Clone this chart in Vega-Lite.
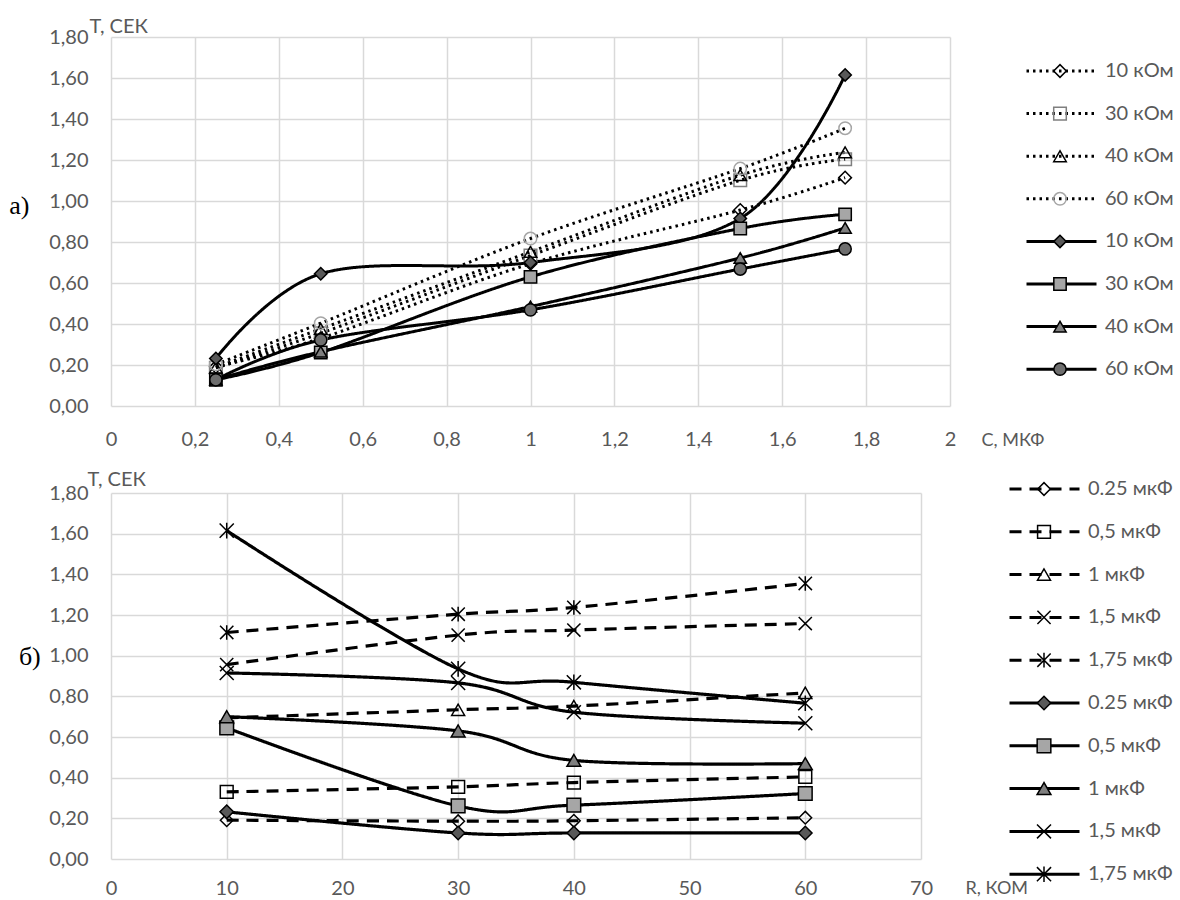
{
  "$schema": "https://vega.github.io/schema/vega-lite/v6.json",
  "padding": {"left": 9, "top": 16, "right": 0, "bottom": 0},
  "background": "white",
  "bounds": "flush",
  "spacing": 87,
  "config": {
    "view": {"stroke": null},
    "axis": {
      "grid": true, "gridColor": "#d9d9d9", "gridWidth": 1.5,
      "domain": false, "ticks": false,
      "labelFont": "Lato", "labelFontSize": 20, "labelColor": "#595959",
      "labelOverlap": false, "labelFlush": false,
      "titleFont": "Lato", "titleFontSize": 20, "titleColor": "#595959", "titleFontWeight": "normal"
    },
    "legend": {
      "orient": "none", "title": null, "padding": 0, "clipHeight": 20,
      "labelFont": "Lato", "labelFontSize": 20, "labelColor": "#595959"
    }
  },
  "data": {"values": [
    {"kind": "d", "C": 0.25, "R": 10, "T": 0.191, "sa": "d|10 кОм", "sb": "d|0.25 мкФ"},
    {"kind": "d", "C": 0.25, "R": 30, "T": 0.186, "sa": "d|30 кОм", "sb": "d|0.25 мкФ"},
    {"kind": "d", "C": 0.25, "R": 40, "T": 0.188, "sa": "d|40 кОм", "sb": "d|0.25 мкФ"},
    {"kind": "d", "C": 0.25, "R": 60, "T": 0.203, "sa": "d|60 кОм", "sb": "d|0.25 мкФ"},
    {"kind": "d", "C": 0.5, "R": 10, "T": 0.33, "sa": "d|10 кОм", "sb": "d|0,5 мкФ"},
    {"kind": "d", "C": 0.5, "R": 30, "T": 0.355, "sa": "d|30 кОм", "sb": "d|0,5 мкФ"},
    {"kind": "d", "C": 0.5, "R": 40, "T": 0.376, "sa": "d|40 кОм", "sb": "d|0,5 мкФ"},
    {"kind": "d", "C": 0.5, "R": 60, "T": 0.404, "sa": "d|60 кОм", "sb": "d|0,5 мкФ"},
    {"kind": "d", "C": 1, "R": 10, "T": 0.694, "sa": "d|10 кОм", "sb": "d|1 мкФ"},
    {"kind": "d", "C": 1, "R": 30, "T": 0.734, "sa": "d|30 кОм", "sb": "d|1 мкФ"},
    {"kind": "d", "C": 1, "R": 40, "T": 0.752, "sa": "d|40 кОм", "sb": "d|1 мкФ"},
    {"kind": "d", "C": 1, "R": 60, "T": 0.817, "sa": "d|60 кОм", "sb": "d|1 мкФ"},
    {"kind": "d", "C": 1.5, "R": 10, "T": 0.956, "sa": "d|10 кОм", "sb": "d|1,5 мкФ"},
    {"kind": "d", "C": 1.5, "R": 30, "T": 1.101, "sa": "d|30 кОм", "sb": "d|1,5 мкФ"},
    {"kind": "d", "C": 1.5, "R": 40, "T": 1.126, "sa": "d|40 кОм", "sb": "d|1,5 мкФ"},
    {"kind": "d", "C": 1.5, "R": 60, "T": 1.158, "sa": "d|60 кОм", "sb": "d|1,5 мкФ"},
    {"kind": "d", "C": 1.75, "R": 10, "T": 1.114, "sa": "d|10 кОм", "sb": "d|1,75 мкФ"},
    {"kind": "d", "C": 1.75, "R": 30, "T": 1.204, "sa": "d|30 кОм", "sb": "d|1,75 мкФ"},
    {"kind": "d", "C": 1.75, "R": 40, "T": 1.237, "sa": "d|40 кОм", "sb": "d|1,75 мкФ"},
    {"kind": "d", "C": 1.75, "R": 60, "T": 1.355, "sa": "d|60 кОм", "sb": "d|1,75 мкФ"},
    {"kind": "s", "C": 0.25, "R": 10, "T": 0.232, "sa": "s|10 кОм", "sb": "s|0.25 мкФ"},
    {"kind": "s", "C": 0.25, "R": 30, "T": 0.128, "sa": "s|30 кОм", "sb": "s|0.25 мкФ"},
    {"kind": "s", "C": 0.25, "R": 40, "T": 0.128, "sa": "s|40 кОм", "sb": "s|0.25 мкФ"},
    {"kind": "s", "C": 0.25, "R": 60, "T": 0.128, "sa": "s|60 кОм", "sb": "s|0.25 мкФ"},
    {"kind": "s", "C": 0.5, "R": 10, "T": 0.645, "sa": "s|10 кОм", "sb": "s|0,5 мкФ"},
    {"kind": "s", "C": 0.5, "R": 30, "T": 0.261, "sa": "s|30 кОм", "sb": "s|0,5 мкФ"},
    {"kind": "s", "C": 0.5, "R": 40, "T": 0.265, "sa": "s|40 кОм", "sb": "s|0,5 мкФ"},
    {"kind": "s", "C": 0.5, "R": 60, "T": 0.322, "sa": "s|60 кОм", "sb": "s|0,5 мкФ"},
    {"kind": "s", "C": 1, "R": 10, "T": 0.7, "sa": "s|10 кОм", "sb": "s|1 мкФ"},
    {"kind": "s", "C": 1, "R": 30, "T": 0.63, "sa": "s|30 кОм", "sb": "s|1 мкФ"},
    {"kind": "s", "C": 1, "R": 40, "T": 0.485, "sa": "s|40 кОм", "sb": "s|1 мкФ"},
    {"kind": "s", "C": 1, "R": 60, "T": 0.469, "sa": "s|60 кОм", "sb": "s|1 мкФ"},
    {"kind": "s", "C": 1.5, "R": 10, "T": 0.915, "sa": "s|10 кОм", "sb": "s|1,5 мкФ"},
    {"kind": "s", "C": 1.5, "R": 30, "T": 0.866, "sa": "s|30 кОм", "sb": "s|1,5 мкФ"},
    {"kind": "s", "C": 1.5, "R": 40, "T": 0.722, "sa": "s|40 кОм", "sb": "s|1,5 мкФ"},
    {"kind": "s", "C": 1.5, "R": 60, "T": 0.668, "sa": "s|60 кОм", "sb": "s|1,5 мкФ"},
    {"kind": "s", "C": 1.75, "R": 10, "T": 1.615, "sa": "s|10 кОм", "sb": "s|1,75 мкФ"},
    {"kind": "s", "C": 1.75, "R": 30, "T": 0.935, "sa": "s|30 кОм", "sb": "s|1,75 мкФ"},
    {"kind": "s", "C": 1.75, "R": 40, "T": 0.869, "sa": "s|40 кОм", "sb": "s|1,75 мкФ"},
    {"kind": "s", "C": 1.75, "R": 60, "T": 0.766, "sa": "s|60 кОм", "sb": "s|1,75 мкФ"}
  ]},
  "resolve": {
    "scale": {"x": "independent", "y": "independent", "shape": "independent", "fill": "independent", "stroke": "independent", "size": "independent", "strokeDash": "independent"},
    "legend": {"shape": "independent", "fill": "independent", "stroke": "independent", "size": "independent", "strokeDash": "independent"}
  },
  "vconcat": [
    {
      "width": 839,
      "height": 369,
      "title": {"text": "а)", "orient": "left", "angle": 0, "align": "right", "baseline": "middle", "anchor": "middle", "font": "Liberation Serif", "fontSize": 26, "fontWeight": "normal", "color": "black", "offset": -1, "dy": -16},
      "encoding": {
        "x": {"field": "C", "type": "quantitative",
              "scale": {"domain": [0, 2], "nice": false, "zero": false},
              "axis": {"values": [0, 0.2, 0.4, 0.6, 0.8, 1, 1.2, 1.4, 1.6, 1.8, 2],
                       "labelExpr": "replace(format(datum.value, '.1~f'), '.', ',')",
                       "labelPadding": 23,
                       "title": "С, МКФ", "titleFontSize": 18, "titleAngle": 0, "titleAlign": "left", "titleBaseline": "alphabetic", "titleX": 870, "titleY": 39}},
        "y": {"field": "T", "type": "quantitative",
              "scale": {"domain": [0, 1.8], "nice": false},
              "axis": {"values": [0, 0.2, 0.4, 0.6, 0.8, 1, 1.2, 1.4, 1.6, 1.8],
                       "labelExpr": "replace(format(datum.value, '.2f'), '.', ',')",
                       "labelPadding": 23,
                       "title": "Т, СЕК", "titleAngle": 0, "titleAlign": "left", "titleBaseline": "alphabetic", "titleX": -22, "titleY": -5}}
      },
      "layer": [
        {
          "mark": {"type": "line", "stroke": "black", "strokeWidth": 3, "interpolate": "cardinal"},
          "encoding": {
            "strokeDash": {"field": "sa", "type": "nominal",
              "sort": ["d|10 кОм", "d|30 кОм", "d|40 кОм", "d|60 кОм", "s|10 кОм", "s|30 кОм", "s|40 кОм", "s|60 кОм"],
              "scale": {"range": [[2.5, 4], [2.5, 4], [2.5, 4], [2.5, 4], [1, 0], [1, 0], [1, 0], [1, 0]]},
              "legend": {"legendX": 914, "legendY": 24, "rowPadding": 22.6, "symbolType": "stroke", "symbolSize": 4900, "symbolStrokeWidth": 3, "symbolStrokeColor": "black", "labelOffset": 7, "labelExpr": "split(datum.label, '|')[1]"}}
          }
        },
        {
          "mark": {"type": "point", "opacity": 1, "strokeWidth": 1.5},
          "encoding": {
            "shape": {"field": "sa", "type": "nominal",
              "scale": {"domain": ["d|10 кОм", "d|30 кОм", "d|40 кОм", "d|60 кОм", "s|10 кОм", "s|30 кОм", "s|40 кОм", "s|60 кОм"],
                        "range": ["diamond", "square", "triangle-up", "circle", "diamond", "square", "triangle-up", "circle"]},
              "legend": {"legendX": 914, "legendY": 24, "rowPadding": 22.6, "symbolOffset": 25, "symbolStrokeWidth": 1.5, "labelExpr": "''"}},
            "fill": {"field": "sa", "type": "nominal",
              "scale": {"domain": ["d|10 кОм", "d|30 кОм", "d|40 кОм", "d|60 кОм", "s|10 кОм", "s|30 кОм", "s|40 кОм", "s|60 кОм"],
                        "range": ["transparent", "transparent", "transparent", "transparent", "#595959", "#a6a6a6", "#7f7f7f", "#6e6e6e"]},
              "legend": {"legendX": 914, "legendY": 24, "rowPadding": 22.6, "symbolOffset": 25, "symbolStrokeWidth": 1.5, "labelExpr": "''"}},
            "stroke": {"field": "sa", "type": "nominal",
              "scale": {"domain": ["d|10 кОм", "d|30 кОм", "d|40 кОм", "d|60 кОм", "s|10 кОм", "s|30 кОм", "s|40 кОм", "s|60 кОм"],
                        "range": ["black", "#7f7f7f", "black", "#a6a6a6", "black", "black", "black", "black"]},
              "legend": {"legendX": 914, "legendY": 24, "rowPadding": 22.6, "symbolOffset": 25, "symbolStrokeWidth": 1.5, "labelExpr": "''"}},
            "size": {"field": "sa", "type": "nominal",
              "scale": {"domain": ["d|10 кОм", "d|30 кОм", "d|40 кОм", "d|60 кОм", "s|10 кОм", "s|30 кОм", "s|40 кОм", "s|60 кОм"],
                        "range": [160, 150, 170, 170, 300, 240, 240, 300]},
              "legend": {"legendX": 914, "legendY": 24, "rowPadding": 22.6, "symbolOffset": 25, "symbolStrokeWidth": 1.5, "labelExpr": "''"}}
          }
        }
      ]
    },
    {
      "width": 810,
      "height": 366,
      "title": {"text": "б)", "orient": "left", "angle": 0, "align": "right", "baseline": "middle", "anchor": "middle", "font": "Liberation Serif", "fontSize": 26, "fontWeight": "normal", "color": "black", "offset": -14, "dy": -19},
      "encoding": {
        "x": {"field": "R", "type": "quantitative",
              "scale": {"domain": [0, 70], "nice": false, "zero": false},
              "axis": {"values": [0, 10, 20, 30, 40, 50, 60, 70],
                       "labelPadding": 19,
                       "title": "R, КОМ", "titleFontSize": 18, "titleAngle": 0, "titleAlign": "left", "titleBaseline": "alphabetic", "titleX": 854, "titleY": 34}},
        "y": {"field": "T", "type": "quantitative",
              "scale": {"domain": [0, 1.8], "nice": false},
              "axis": {"values": [0, 0.2, 0.4, 0.6, 0.8, 1, 1.2, 1.4, 1.6, 1.8],
                       "labelExpr": "replace(format(datum.value, '.2f'), '.', ',')",
                       "labelPadding": 23,
                       "title": "Т, СЕК", "titleAngle": 0, "titleAlign": "left", "titleBaseline": "alphabetic", "titleX": -24, "titleY": -8}}
      },
      "layer": [
        {
          "mark": {"type": "line", "stroke": "black", "strokeWidth": 3.2, "interpolate": "cardinal"},
          "encoding": {
            "strokeDash": {"field": "sb", "type": "nominal",
              "sort": ["d|0.25 мкФ", "d|0,5 мкФ", "d|1 мкФ", "d|1,5 мкФ", "d|1,75 мкФ", "s|0.25 мкФ", "s|0,5 мкФ", "s|1 мкФ", "s|1,5 мкФ", "s|1,75 мкФ"],
              "scale": {"range": [[12, 8], [12, 8], [12, 8], [12, 8], [12, 8], [1, 0], [1, 0], [1, 0], [1, 0], [1, 0]]},
              "legend": {"legendX": 897, "legendY": -14, "rowPadding": 22.8, "symbolType": "stroke", "symbolSize": 4900, "symbolStrokeWidth": 3, "symbolStrokeColor": "black", "labelOffset": 7, "labelExpr": "split(datum.label, '|')[1]"}}
          }
        },
        {
          "mark": {"type": "point", "opacity": 1, "strokeWidth": 1.5},
          "encoding": {
            "shape": {"field": "sb", "type": "nominal",
              "scale": {"domain": ["d|0.25 мкФ", "d|0,5 мкФ", "d|1 мкФ", "d|1,5 мкФ", "d|1,75 мкФ", "s|0.25 мкФ", "s|0,5 мкФ", "s|1 мкФ", "s|1,5 мкФ", "s|1,75 мкФ"],
                        "range": ["diamond", "square", "triangle-up", "M-1,-1L1,1M-1,1L1,-1", "M-1,-1L1,1M-1,1L1,-1M0,-1.1L0,1.1", "diamond", "square", "triangle-up", "M-1,-1L1,1M-1,1L1,-1", "M-1,-1L1,1M-1,1L1,-1M0,-1.1L0,1.1"]},
              "legend": {"legendX": 897, "legendY": -14, "rowPadding": 22.8, "symbolOffset": 26, "symbolStrokeWidth": 1.5, "labelExpr": "''"}},
            "fill": {"field": "sb", "type": "nominal",
              "scale": {"domain": ["d|0.25 мкФ", "d|0,5 мкФ", "d|1 мкФ", "d|1,5 мкФ", "d|1,75 мкФ", "s|0.25 мкФ", "s|0,5 мкФ", "s|1 мкФ", "s|1,5 мкФ", "s|1,75 мкФ"],
                        "range": ["transparent", "transparent", "transparent", "transparent", "transparent", "#595959", "#a6a6a6", "#7f7f7f", "transparent", "transparent"]},
              "legend": {"legendX": 897, "legendY": -14, "rowPadding": 22.8, "symbolOffset": 26, "symbolStrokeWidth": 1.5, "labelExpr": "''"}},
            "stroke": {"field": "sb", "type": "nominal",
              "scale": {"domain": ["d|0.25 мкФ", "d|0,5 мкФ", "d|1 мкФ", "d|1,5 мкФ", "d|1,75 мкФ", "s|0.25 мкФ", "s|0,5 мкФ", "s|1 мкФ", "s|1,5 мкФ", "s|1,75 мкФ"],
                        "range": ["black", "black", "black", "black", "black", "black", "black", "black", "black", "black"]},
              "legend": {"legendX": 897, "legendY": -14, "rowPadding": 22.8, "symbolOffset": 26, "symbolStrokeWidth": 1.5, "labelExpr": "''"}},
            "size": {"field": "sb", "type": "nominal",
              "scale": {"domain": ["d|0.25 мкФ", "d|0,5 мкФ", "d|1 мкФ", "d|1,5 мкФ", "d|1,75 мкФ", "s|0.25 мкФ", "s|0,5 мкФ", "s|1 мкФ", "s|1,5 мкФ", "s|1,75 мкФ"],
                        "range": [160, 200, 200, 190, 200, 260, 250, 240, 190, 200]},
              "legend": {"legendX": 897, "legendY": -14, "rowPadding": 22.8, "symbolOffset": 26, "symbolStrokeWidth": 1.5, "labelExpr": "''"}}
          }
        }
      ]
    }
  ]
}
